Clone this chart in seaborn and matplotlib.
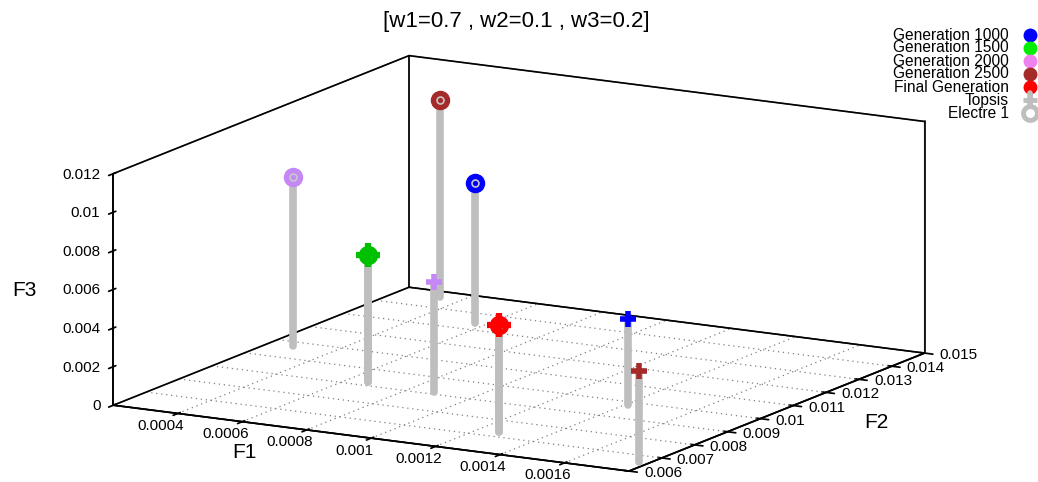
import numpy as np
import matplotlib
matplotlib.use('Agg')
import matplotlib.pyplot as plt
import seaborn as sns
from matplotlib.lines import Line2D
from mpl_toolkits.mplot3d import proj3d

# ---------------- data ----------------
generations = ['Generation 1000', 'Generation 1500', 'Generation 2000',
               'Generation 2500', 'Final Generation']
gen_colors = ['#0000ff', '#00c000', '#c488f6', '#a52a2a', '#ff0000']
legend_colors = ['#0000ff', '#00ee00', '#ee82ee', '#a52a2a', '#ff0000']

topsis_f1 = [0.00141, 0.000663, 0.000877, 0.00177, 0.001264]
topsis_f2 = [0.0098, 0.00921, 0.00912, 0.00659, 0.00729]
topsis_f3 = [0.00445, 0.00657, 0.00569, 0.00471, 0.00553]

electre_f1 = [0.000566, 0.000663, 0.000275, 0.000332, 0.001264]
electre_f2 = [0.01341, 0.00921, 0.01074, 0.01465, 0.00729]
electre_f3 = [0.00724, 0.00657, 0.00879, 0.01024, 0.00553]

f1_ticks = [0.0004, 0.0006, 0.0008, 0.001, 0.0012, 0.0014, 0.0016]
f2_ticks = [0.006, 0.007, 0.008, 0.009, 0.01, 0.011, 0.012, 0.013, 0.014, 0.015]
f3_ticks = [0, 0.002, 0.004, 0.006, 0.008, 0.01, 0.012]
f1_range = (0.0002, 0.0018)
f2_range = (0.006, 0.015)
f3_range = (0.0, 0.012)

title = '[w1=0.7 , w2=0.1 , w3=0.2]'
method_labels = ['Topsis', 'Electre 1']

# ---------------- style ----------------
sns.set_theme(style='white')
plt.rcParams['font.family'] = ['Liberation Sans', 'DejaVu Sans']
plt.rcParams['text.color'] = 'black'

topsis_sizes = [11, 17, 11, 11, 17]   # marker size per generation (style)

W, H = 1038, 482
fig = plt.figure(figsize=(W / 100, H / 100), dpi=100)
fig.patch.set_facecolor('white')
ax = fig.add_axes([0.0, 0.0, 1.0, 1.0], projection='3d', computed_zorder=False)
ax.set_facecolor('none')
ax.set_proj_type('ortho')
ax.view_init(elev=13.05, azim=-60.5)
zoom = 1.0
ax.set_box_aspect((593, 601, 238), zoom=zoom)
ax.set_xlim(*f1_range)
ax.set_ylim(*f2_range)
ax.set_zlim(*f3_range)
ax.grid(False)

for axis in (ax.xaxis, ax.yaxis, ax.zaxis):
    axis.pane.set_fill(False)
    axis.pane.set_edgecolor((0, 0, 0, 0))
    axis.line.set_color('black')
    axis.line.set_linewidth(1.2)
    axis.set_tick_params(label1On=False, label2On=False, color='black', width=1.0)

ax.set_xticks(f1_ticks)
ax.set_yticks(f2_ticks)
ax.set_zticks(f3_ticks)

x0, x1 = f1_range
y0, y1 = f2_range
z0, z1 = f3_range
box_edges = [((x0, x0), (y0, y0), (z0, z1)), ((x0, x0), (y1, y1), (z0, z1)),
             ((x1, x1), (y1, y1), (z0, z1)), ((x0, x0), (y0, y1), (z1, z1)),
             ((x0, x1), (y1, y1), (z1, z1)), ((x0, x1), (y0, y0), (z0, z0)),
             ((x1, x1), (y0, y1), (z0, z0)), ((x0, x0), (y0, y1), (z0, z0)),
             ((x0, x1), (y1, y1), (z0, z0))]
for ex, ey, ez in box_edges:
    ax.plot(ex, ey, ez, color='black', lw=1.2, zorder=1.5, clip_on=False)

# base grid (dotted)
for x in f1_ticks:
    ax.plot([x, x], list(f2_range), [0, 0], ls=(0, (1, 3)), color='#808080',
            lw=0.9, zorder=1, clip_on=False)
for y in f2_ticks[1:-1]:
    ax.plot(list(f1_range), [y, y], [0, 0], ls=(0, (1, 3)), color='#808080',
            lw=0.9, zorder=1, clip_on=False)

stem_color = '#bebebe'
# stems
for xs, ys, zs in ((electre_f1, electre_f2, electre_f3), (topsis_f1, topsis_f2, topsis_f3)):
    for x, y, z in zip(xs, ys, zs):
        ax.plot([x, x], [y, y], [0, z], color=stem_color, lw=5.5,
                solid_capstyle='round', zorder=2, clip_on=False)
# markers
for x, y, z, c in zip(electre_f1, electre_f2, electre_f3, gen_colors):
    ax.plot([x], [y], [z], marker='o', ms=13, mfc=c, mec=c, ls='none', zorder=4, clip_on=False)
    ax.plot([x], [y], [z], marker='o', ms=5, mfc=c, mec='#c8c8c8', mew=1.2, ls='none',
            zorder=5, clip_on=False)
for x, y, z, c, s in zip(topsis_f1, topsis_f2, topsis_f3, gen_colors, topsis_sizes):
    ax.plot([x], [y], [z], marker='+', ms=s, mew=4.5 if s > 12 else 4, color=c, ls='none',
            zorder=6, clip_on=False)

# ---------------- z axis on the left edge ----------------
ax.zaxis.set_ticks_position('lower')
fig.canvas.draw()
zl = ax.transData.transform(np.column_stack([ax.zaxis.line.get_xdata(),
                                             ax.zaxis.line.get_ydata()]))
if zl[:, 0].mean() > W / 2:
    ax.zaxis.set_ticks_position('upper')

# ---------------- calibrate box placement to the reference layout ----------------
corners = np.array([[x0, y0, z0], [x1, y1, z0], [x0, y1, z1], [x1, y0, z0]])
target = np.array([[112, 405], [926, 352], [410, 57], [628, 471]], float)


def project(pts):
    """3D data -> display pixels (origin bottom-left) through the axes projection."""
    fig.canvas.draw()
    pts = np.asarray(pts, float)
    px, py, _ = proj3d.proj_transform(pts[:, 0], pts[:, 1], pts[:, 2], ax.M)
    return ax.transData.transform(np.column_stack([px, py]))


for _ in range(3):
    cur = project(corners)
    cur[:, 1] = H - cur[:, 1]
    sx = (target[:, 0].max() - target[:, 0].min()) / (cur[:, 0].max() - cur[:, 0].min())
    sy = (target[:, 1].max() - target[:, 1].min()) / (cur[:, 1].max() - cur[:, 1].min())
    zoom *= (sx + sy) / 2
    ax.set_box_aspect((593, 601, 238), zoom=zoom)
    cur = project(corners)
    cur[:, 1] = H - cur[:, 1]
    off = (target - cur).mean(axis=0)
    pos = ax.get_position(original=True)
    ax.set_position([pos.x0 + off[0] / W, pos.y0 - off[1] / H, pos.width, pos.height])

# ---------------- tick labels (gnuplot placement) ----------------
def tick_labels(pts, values, dx, dy, ha):
    d = project(pts)
    for (px, py), v in zip(d, values):
        fig.text((px + dx) / W, (py + dy) / H, f'{v:g}', ha=ha, va='center',
                 fontsize=11, color='black')


tick_labels([[v, y0, z0] for v in f1_ticks], f1_ticks, -17, -12.5, 'center')
tick_labels([[x1, v, z0] for v in f2_ticks], f2_ticks, 15, -2, 'left')
tick_labels([[x0, y0, v] for v in f3_ticks], f3_ticks, -13, -1, 'right')

# ---------------- texts ----------------
fig.text(516 / W, 1 - 22 / H, title, ha='center', va='center', fontsize=16, color='black')
fig.text(244 / W, 1 - 453 / H, 'F1', ha='center', va='center', fontsize=15, color='black')
fig.text(876 / W, 1 - 423 / H, 'F2', ha='center', va='center', fontsize=15, color='black')
fig.text(24 / W, 1 - 290 / H, 'F3', ha='center', va='center', fontsize=15, color='black')

# legend
rows_y = [35, 48, 61, 74, 87, 100, 113]
labels = generations + method_labels
for yy, lab in zip(rows_y, labels):
    fig.text(1009 / W, 1 - yy / H, lab, ha='right', va='center', fontsize=11.2, color='black')
for yy, c in zip(rows_y[:5], legend_colors):
    fig.add_artist(Line2D([1030 / W], [1 - yy / H], marker='o', ms=9, mfc=c, mec=c, ls='none',
                          transform=fig.transFigure))
fig.add_artist(Line2D([1030 / W, 1030 / W], [1 - 93 / H, 1 - 113 / H], color=stem_color, lw=4,
                      transform=fig.transFigure))
fig.add_artist(Line2D([1030 / W], [1 - rows_y[5] / H], marker='+', ms=10, mew=3.5, color=stem_color,
                      ls='none', transform=fig.transFigure))
fig.add_artist(Line2D([1030 / W], [1 - rows_y[6] / H], marker='o', ms=10, mfc='white', mec=stem_color,
                      mew=3.5, ls='none', transform=fig.transFigure))

fig.savefig('out.png', dpi=100, facecolor='white')
